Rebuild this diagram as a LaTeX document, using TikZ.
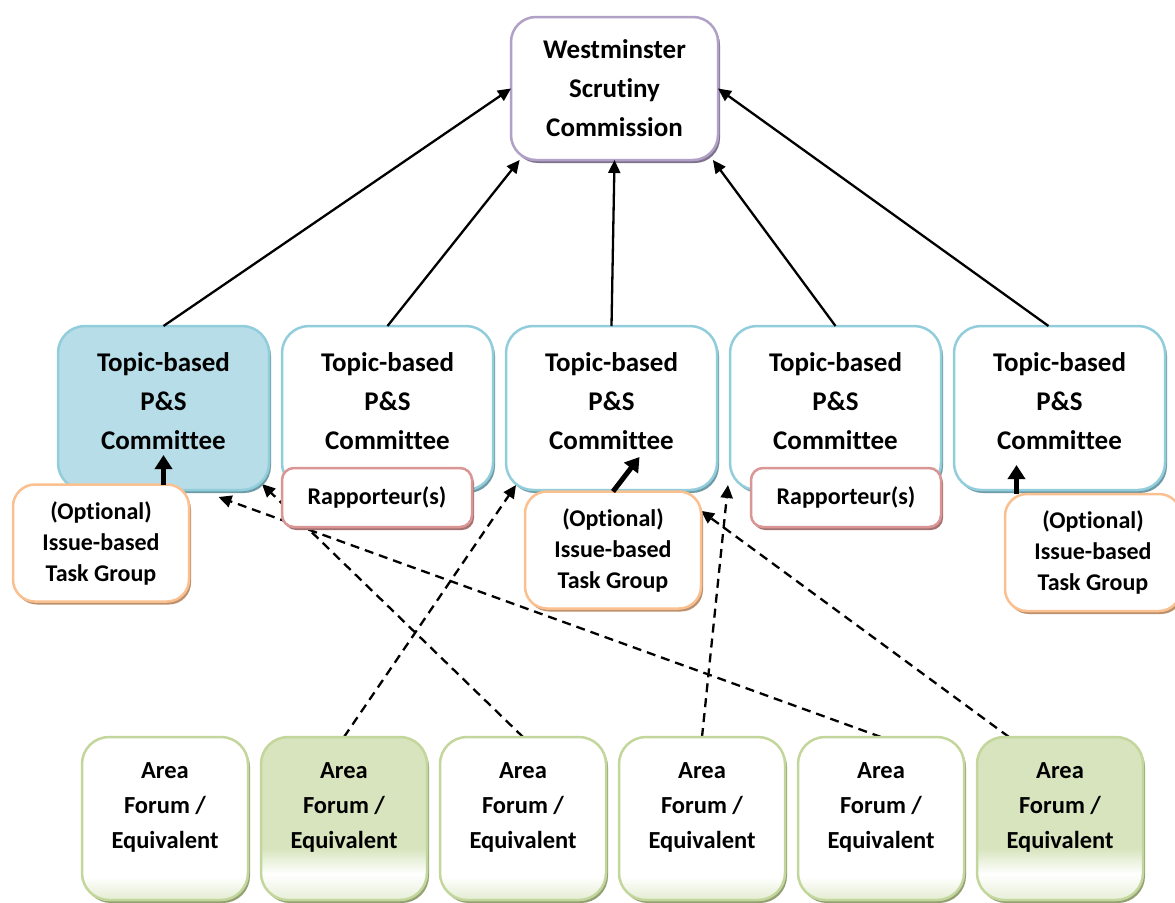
\documentclass[tikz,border=0pt]{standalone}
\usepackage{fontspec}
\setmainfont{Carlito}[Ligatures=CommonOff]
\usetikzlibrary{arrows.meta, positioning, calc, shadows, backgrounds}

\definecolor{purpleline}{RGB}{178,161,199}
\definecolor{blueline}{RGB}{146,205,220}
\definecolor{bluefill}{RGB}{183,221,232}
\definecolor{orangeline}{RGB}{250,192,144}
\definecolor{redline}{RGB}{217,150,148}
\definecolor{greenline}{RGB}{195,214,155}
\definecolor{greenfill}{RGB}{215,228,189}

\pgfdeclareverticalshading{greenfade}{100bp}{color(0bp)=(greenfill!60); color(25bp)=(greenfill!60);
  color(33bp)=(white); color(41bp)=(greenfill); color(100bp)=(greenfill)}
\pgfdeclareverticalshading{whitefade}{100bp}{color(0bp)=(greenfill!70); color(25bp)=(greenfill!70);
  color(32bp)=(white); color(100bp)=(white)}

\begin{document}
\begin{tikzpicture}[
    x=1pt, y=1pt,
    node distance=13pt,
    base/.style={fill=white, line width=2.5pt, align=center, inner sep=0pt, outer sep=0pt},
    westbox/.style={base, draw=purpleline, rounded corners=25pt, minimum width=207pt, minimum height=143pt,
                    font=\bfseries\fontsize{27}{39}\selectfont,
                    drop shadow={shadow xshift=2pt, shadow yshift=-3pt, fill=purpleline!70!black, opacity=1}},
    combox/.style={base, draw=blueline, rounded corners=27pt, minimum width=211pt, minimum height=164pt,
                   font=\bfseries\fontsize{27}{39}\selectfont, text depth=14pt,
                   drop shadow={shadow xshift=2pt, shadow yshift=-3pt, fill=blueline!75!black, opacity=1}},
    taskbox/.style={base, draw=orangeline, rounded corners=22pt, minimum width=176pt, minimum height=117pt,
                    font=\bfseries\fontsize{24}{31}\selectfont,
                    drop shadow={shadow xshift=2pt, shadow yshift=-3pt, fill=orangeline!75!black, opacity=1}},
    rapbox/.style={base, draw=redline, rounded corners=12pt, minimum width=190pt, minimum height=59pt,
                   font=\bfseries\fontsize{24}{30}\selectfont,
                   drop shadow={shadow xshift=2pt, shadow yshift=-3pt, fill=redline!75!black, opacity=1}},
    areabox/.style={base, draw=greenline, rounded corners=27pt, minimum width=166pt, minimum height=163pt,
                    font=\bfseries\fontsize{24.5}{35}\selectfont, text depth=25pt, shade, shading=whitefade,
                    drop shadow={shadow xshift=2pt, shadow yshift=-3pt, fill=greenline!75!black, opacity=1}},
    arr/.style={-{Triangle[length=13pt, width=12pt]}, line width=2.3pt},
    dasharr/.style={arr, dash pattern=on 9pt off 6pt},
    fatarr/.style={-{Triangle[length=14pt, width=17pt]}, line width=5pt}
]
\useasboundingbox (0,0) rectangle (1175,-902);

\node[westbox] (W) at (614.5,-88.5) {Westminster\\Scrutiny\\Commission};

\node[combox, fill=bluefill] (C1) at (163.5,-408) {Topic-based\\P\&S\\Committee};
\node[combox, right=of C1] (C2) {Topic-based\\P\&S\\Committee};
\node[combox, right=of C2] (C3) {Topic-based\\P\&S\\Committee};
\node[combox, right=of C3] (C4) {Topic-based\\P\&S\\Committee};
\node[combox, right=of C4] (C5) {Topic-based\\P\&S\\Committee};

\node[areabox] (A1) at (165,-818.5) {Area\\Forum /\\Equivalent};
\node[areabox, shading=greenfade, right=of A1] (A2) {Area\\Forum /\\Equivalent};
\node[areabox, right=of A2] (A3) {Area\\Forum /\\Equivalent};
\node[areabox, right=of A3] (A4) {Area\\Forum /\\Equivalent};
\node[areabox, right=of A4] (A5) {Area\\Forum /\\Equivalent};
\node[areabox, shading=greenfade, right=of A5] (A6) {Area\\Forum /\\Equivalent};

\node[rapbox, anchor=north west] (R2) at ($(C2.south west)+(0,22)$) {Rapporteur(s)};
\node[rapbox, anchor=north east] (R4) at ($(C4.south east)+(0,22)$) {Rapporteur(s)};

\node[taskbox] (T1) at (101,-543) {(Optional)\\Issue-based\\Task Group};
\node[taskbox] (T3) at (613,-550) {(Optional)\\Issue-based\\Task Group};
\node[taskbox] (T5) at (1093,-552.5) {(Optional)\\Issue-based\\Task Group};

\draw[arr] (C1.north) -- (W.west);
\draw[arr] (C2.north) -- (W.217);
\draw[arr] (C3.north) -- (W.south);
\draw[arr] (C4.north) -- (W.324);
\draw[arr] ($(C5.north)+(-11,0)$) -- (W.east);

\coordinate (c1in) at ($(C1.south)+(0,35)$);
\coordinate (c3in) at ($(C3.south)+(28,33)$);
\coordinate (c5in) at ($(C5.south)+(-43,25)$);
\draw[fatarr] (T1.north -| c1in) -- (c1in);
\draw[fatarr] (T3.north) -- (c3in);
\draw[fatarr] (T5.north -| c5in) -- (c5in);

\begin{scope}[on background layer]
\draw[dasharr] (A2.north) -- ($(C3.south west)+(10,5)$);
\draw[dasharr] (A3.north) -- ($(C1.south east)+(-7,6)$);
\draw[dasharr] (A4.north) -- ($(C4.south west)+(-2,5)$);
\draw[dasharr] (A5.north) -- ($(C1.south)+(55,-7)$);
\draw[dasharr] ($(A6.north west)+(32,0)$) -- (T3.24);
\end{scope}
\end{tikzpicture}
\end{document}
